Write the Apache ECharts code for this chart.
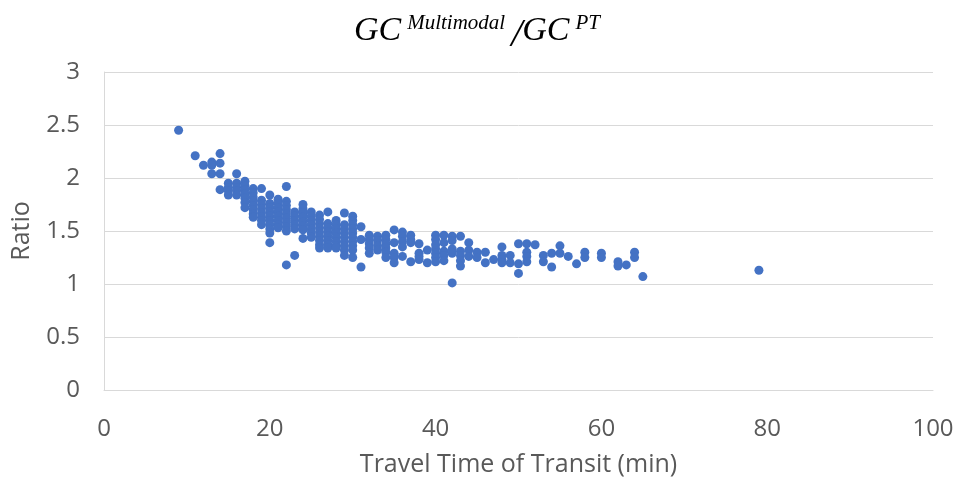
<!DOCTYPE html>
<html>
<head>
<meta charset="utf-8">
<script src="https://cdn.jsdelivr.net/npm/echarts@6/dist/echarts.min.js"></script>
<style>html,body{margin:0;padding:0;background:#fff;}#c{width:960px;height:484px;}</style>
</head>
<body>
<div id="c"></div>
<script>
const xTicks = [0, 20, 40, 60, 80, 100];
const yTicks = [0, 0.5, 1, 1.5, 2, 2.5, 3];
const times = [9, 11, 12, 13, 14, 15, 16, 17, 18, 19, 20, 21, 22, 23, 24, 25, 26, 27, 28, 29, 30,
  31, 32, 33, 34, 35, 36, 37, 38, 39, 40, 41, 42, 43, 44, 45, 46, 47, 48, 49, 50,
  51, 52, 53, 54, 55, 56, 57, 58, 60, 62, 63, 64, 65, 79];
const ratiosByTime = [
  [2.45],
  [2.21],
  [2.12],
  [2.15, 2.12, 2.04],
  [2.23, 2.14, 2.04, 1.89],
  [1.95, 1.91, 1.88, 1.84],
  [2.04, 1.95, 1.91, 1.88, 1.84],
  [1.97, 1.93, 1.89, 1.85, 1.81, 1.77, 1.72],
  [1.90, 1.86, 1.82, 1.78, 1.74, 1.70, 1.66, 1.63],
  [1.90, 1.79, 1.75, 1.71, 1.67, 1.63, 1.60, 1.56],
  [1.84, 1.76, 1.72, 1.68, 1.64, 1.60, 1.56, 1.52, 1.48, 1.39],
  [1.80, 1.76, 1.72, 1.68, 1.64, 1.60, 1.56, 1.53],
  [1.92, 1.78, 1.74, 1.70, 1.66, 1.62, 1.58, 1.54, 1.50, 1.18],
  [1.68, 1.64, 1.60, 1.56, 1.52, 1.27],
  [1.75, 1.71, 1.67, 1.63, 1.59, 1.55, 1.51, 1.43],
  [1.68, 1.64, 1.60, 1.56, 1.52, 1.48, 1.44],
  [1.65, 1.61, 1.57, 1.53, 1.49, 1.45, 1.41, 1.37, 1.34],
  [1.68, 1.57, 1.53, 1.49, 1.45, 1.41, 1.37, 1.34],
  [1.60, 1.56, 1.52, 1.48, 1.44, 1.40, 1.36, 1.34],
  [1.67, 1.56, 1.52, 1.48, 1.44, 1.40, 1.36, 1.32, 1.27],
  [1.64, 1.60, 1.56, 1.52, 1.48, 1.44, 1.40, 1.36, 1.32, 1.25],
  [1.54, 1.42, 1.16],
  [1.46, 1.42, 1.38, 1.34, 1.29],
  [1.45, 1.41, 1.36, 1.32],
  [1.46, 1.42, 1.38, 1.34, 1.30, 1.25],
  [1.51, 1.39, 1.29, 1.25, 1.20],
  [1.49, 1.45, 1.40, 1.35, 1.26],
  [1.46, 1.42, 1.39, 1.21],
  [1.38, 1.29, 1.26, 1.23],
  [1.32, 1.20],
  [1.46, 1.42, 1.37, 1.33, 1.29, 1.25, 1.21],
  [1.46, 1.39, 1.31, 1.27, 1.22],
  [1.45, 1.41, 1.33, 1.29, 1.01],
  [1.45, 1.31, 1.27, 1.22, 1.17],
  [1.39, 1.32, 1.26],
  [1.30, 1.25],
  [1.30, 1.20],
  [1.23],
  [1.35, 1.27, 1.23, 1.20],
  [1.27, 1.20],
  [1.38, 1.19, 1.10],
  [1.38, 1.30, 1.26, 1.21],
  [1.37],
  [1.27, 1.21],
  [1.29, 1.16],
  [1.36, 1.29],
  [1.26],
  [1.19],
  [1.30, 1.25],
  [1.29, 1.25],
  [1.21, 1.17],
  [1.18],
  [1.30, 1.25],
  [1.07],
  [1.13]
];

const points = [];
times.forEach((t, i) => ratiosByTime[i].forEach(r => points.push([t, r])));

const chart = echarts.init(document.getElementById('c'), null, {renderer: 'canvas'});
const labelColor = '#595959';
const serif = 'Liberation Serif';
chart.setOption({
  animation: false,
  title: {
    text: '{a|GC}{b|Multimodal}{c|/}{a|GC}{b|PT}',
    left: 'center',
    top: 8,
    textStyle: {
      fontWeight: 'normal',
      rich: {
        a: {fontFamily: serif, fontStyle: 'italic', fontWeight: 'normal', fontSize: 34, color: '#000', verticalAlign: 'bottom'},
        b: {fontFamily: serif, fontStyle: 'italic', fontWeight: 'normal', fontSize: 21, color: '#000', verticalAlign: 'bottom', padding: [0, 6, 14, 6]},
        c: {fontFamily: serif, fontStyle: 'italic', fontWeight: 'normal', fontSize: 40, color: '#000', verticalAlign: 'bottom', padding: [0, 0, -7, 0]}
      }
    }
  },
  grid: {left: 104, right: 27, top: 72, bottom: 94, containLabel: false},
  xAxis: {
    type: 'value', min: 0, max: 100, interval: 20,
    name: 'Travel Time of Transit (min)', nameLocation: 'middle', nameGap: 62,
    nameTextStyle: {fontFamily: 'Open Sans', fontSize: 25, color: labelColor},
    axisLine: {show: true, lineStyle: {color: '#d9d9d9', width: 1}},
    axisTick: {show: false},
    splitLine: {show: false},
    axisLabel: {fontFamily: 'Open Sans', fontSize: 24, color: labelColor, margin: 27}
  },
  yAxis: {
    type: 'value', min: 0, max: 3, interval: 0.5,
    name: 'Ratio', nameLocation: 'middle', nameGap: 70,
    nameTextStyle: {fontFamily: 'Open Sans', fontSize: 25, color: labelColor},
    axisLine: {show: true, lineStyle: {color: '#d9d9d9', width: 1}},
    axisTick: {show: false},
    splitLine: {show: true, lineStyle: {color: '#d9d9d9', width: 1}},
    axisLabel: {fontFamily: 'Open Sans', fontSize: 24, color: labelColor, margin: 24}
  },
  series: [{
    type: 'scatter',
    data: points,
    symbol: 'circle',
    symbolSize: 9,
    itemStyle: {color: '#4472c4', opacity: 1}
  }]
});
</script>
</body>
</html>
